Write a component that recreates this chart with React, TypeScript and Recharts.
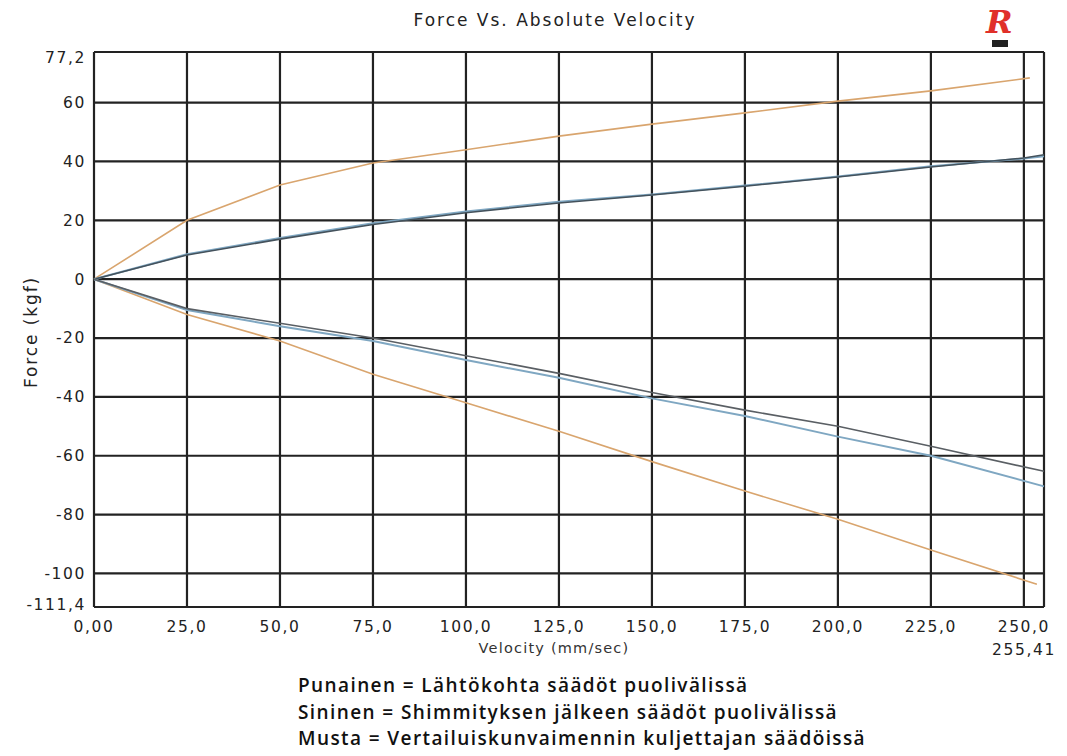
import { LineChart, Line, XAxis, YAxis, CartesianGrid } from "recharts";

// velocity points (mm/sec)
const velocity = [0, 25, 50, 75, 100, 125, 150, 175, 200, 225];

// force (kgf), compression side
const redComp = [0, 20, 32, 39.5, 44, 48.6, 52.7, 56.5, 60.5, 64, 68.4];
const blueComp = [0, 8.5, 14, 19, 23, 26.3, 28.8, 31.8, 34.9, 38.4, 41, 41.8];
const blackComp = [0, 8.2, 13.6, 18.6, 22.6, 25.9, 28.6, 31.6, 34.7, 38.1, 41.2, 42.3];

// force (kgf), rebound side
const redReb = [0, -12, -21, -32.3, -42, -51.7, -62, -72, -81.6, -92, -103.7];
const blueReb = [0, -10.5, -16, -21, -27.5, -33.5, -40.5, -46.5, -53.5, -60, -70.4];
const blackReb = [0, -10, -15, -20, -26, -32, -38.5, -44.5, -50, -56.8, -65.3];

const redEndComp = 251.6;
const redEndReb = 253.5;
const vMax = 255.41;
const blueBlackTail = [250, vMax];

const xTicks = [0, 25, 50, 75, 100, 125, 150, 175, 200, 225, 250, 255.41];
const yTicks = [-111.4, -100, -80, -60, -40, -20, 0, 20, 40, 60, 77.2];

const legendLines = [
  "Punainen = Lähtökohta säädöt puolivälissä",
  "Sininen = Shimmityksen jälkeen säädöt puolivälissä",
  "Musta = Vertailuiskunvaimennin kuljettajan säädöissä",
];

const toPoints = (vs: number[], fs: number[]) => vs.map((v, i) => ({ v, f: fs[i] }));

const redCompData = toPoints([...velocity, redEndComp], redComp);
const redRebData = toPoints([...velocity, redEndReb], redReb);
const blueCompData = toPoints([...velocity, ...blueBlackTail], blueComp);
const blackCompData = toPoints([...velocity, ...blueBlackTail], blackComp);
const blueRebData = toPoints([...velocity, vMax], blueReb);
const blackRebData = toPoints([...velocity, vMax], blackReb);

const tickFont = { fontFamily: "DejaVu Sans", fontSize: 15.5, fill: "#222", letterSpacing: 1.6 };

function fmtX(v: number) {
  if (v === 0) return "0,00";
  if (v === vMax) return "255,41";
  return v.toFixed(1).replace(".", ",");
}

function XTick(props: any) {
  const { x, y, payload } = props;
  const v = payload.value;
  if (v === vMax) {
    return (
      <text x={x - 20} y={y + 40} textAnchor="middle" {...tickFont}>
        {fmtX(v)}
      </text>
    );
  }
  return (
    <text x={x} y={y + 17} textAnchor="middle" {...tickFont}>
      {fmtX(v)}
    </text>
  );
}

function YTick(props: any) {
  const { x, y, payload } = props;
  const v = payload.value;
  const label = String(v).replace(".", ",");
  const shift = v === 77.2 ? 6 : v === -111.4 ? -2 : 0;
  return (
    <text x={x} y={y + shift} dy="0.35em" textAnchor="end" {...tickFont}>
      {label}
    </text>
  );
}

export default function App() {
  return (
    <div style={{ position: "absolute", left: 0, top: 0, width: 1067, height: 756, background: "#fff" }}>
      <LineChart width={1067} height={756} margin={{ top: 52, right: 23, bottom: 89, left: 0 }}>
        <CartesianGrid stroke="#222" strokeWidth={2.2} />
        <XAxis
          dataKey="v"
          type="number"
          domain={[0, vMax]}
          ticks={xTicks}
          interval={0}
          height={60}
          axisLine={false}
          tickLine={false}
          tick={<XTick />}
        />
        <YAxis
          type="number"
          domain={[-111.4, 77.2]}
          ticks={yTicks}
          interval={0}
          width={94}
          axisLine={false}
          tickLine={false}
          tick={<YTick />}
        />
        <Line data={redCompData} dataKey="f" stroke="#d9a56e" strokeWidth={1.6} dot={false} isAnimationActive={false} />
        <Line data={redRebData} dataKey="f" stroke="#d9a56e" strokeWidth={1.6} dot={false} isAnimationActive={false} />
        <Line data={blueCompData} dataKey="f" stroke="#7fa7c2" strokeWidth={2} dot={false} isAnimationActive={false} />
        <Line data={blackCompData} dataKey="f" stroke="#44525c" strokeWidth={1.6} dot={false} isAnimationActive={false} />
        <Line data={blueRebData} dataKey="f" stroke="#7fa7c2" strokeWidth={2} dot={false} isAnimationActive={false} />
        <Line data={blackRebData} dataKey="f" stroke="#5a5f64" strokeWidth={1.6} dot={false} isAnimationActive={false} />
      </LineChart>

      <div
        style={{
          position: "absolute",
          left: 0,
          width: 1110,
          top: 10,
          textAlign: "center",
          fontFamily: "DejaVu Sans",
          fontSize: 17,
          letterSpacing: 2,
          color: "#222",
        }}
      >
        Force Vs. Absolute Velocity
      </div>

      <div
        style={{
          position: "absolute",
          left: 31,
          top: 332,
          transform: "translate(-50%, -50%) rotate(-90deg)",
          fontFamily: "DejaVu Sans",
          fontSize: 17,
          letterSpacing: 1.9,
          color: "#222",
          whiteSpace: "nowrap",
        }}
      >
        Force (kgf)
      </div>

      <div
        style={{
          position: "absolute",
          left: 0,
          width: 1108,
          top: 640,
          textAlign: "center",
          fontFamily: "DejaVu Sans",
          fontSize: 14.5,
          letterSpacing: 1.2,
          color: "#333",
        }}
      >
        Velocity (mm/sec)
      </div>

      {/* logo */}
      <div
        style={{
          position: "absolute",
          left: 986,
          top: 4,
          fontFamily: "DejaVu Serif",
          fontStyle: "italic",
          fontWeight: "bold",
          fontSize: 32,
          color: "#e0302a",
          lineHeight: "36px",
        }}
      >
        R
      </div>
      <div style={{ position: "absolute", left: 992, top: 40, width: 16, height: 7, background: "#222" }} />

      <div style={{ position: "absolute", left: 298, top: 672 }}>
        {legendLines.map((t) => (
          <div
            key={t}
            style={{
              fontFamily: "Open Sans",
              fontWeight: 600,
              fontSize: 19,
              letterSpacing: 1.4,
              lineHeight: "26.5px",
              color: "#111",
              whiteSpace: "nowrap",
            }}
          >
            {t}
          </div>
        ))}
      </div>
    </div>
  );
}
